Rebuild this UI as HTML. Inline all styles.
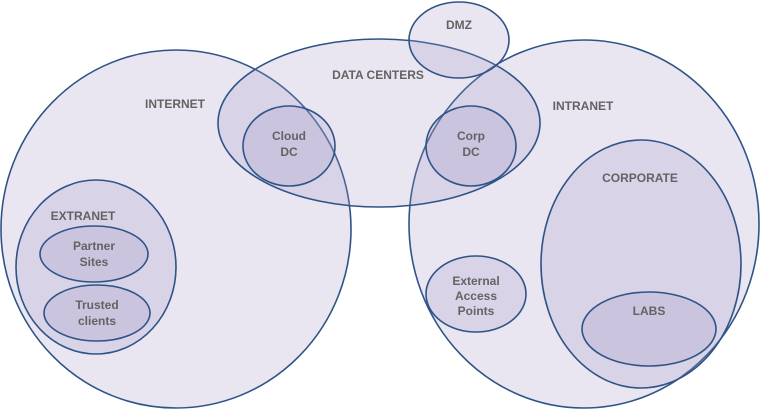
<!DOCTYPE html>
<html><head><style>
body{margin:0;background:#fff;width:760px;height:409px;overflow:hidden}
svg{display:block}
text{font-family:"Liberation Sans",sans-serif;font-weight:bold;font-size:12px;fill:#636363;text-anchor:middle}
ellipse{fill:#a595c4;fill-opacity:0.24;stroke:#2e5487;stroke-width:1.6}
</style></head><body>
<svg width="760" height="409" viewBox="0 0 760 409">
<ellipse cx="176" cy="229" rx="175" ry="179"/>
<ellipse cx="584" cy="224" rx="175" ry="184"/>
<ellipse cx="379" cy="123" rx="161" ry="84"/>
<ellipse cx="459" cy="40" rx="50" ry="38"/>
<ellipse cx="289" cy="146" rx="46" ry="40"/>
<ellipse cx="471" cy="146" rx="45" ry="40"/>
<ellipse cx="96" cy="267" rx="80" ry="87"/>
<ellipse cx="94" cy="254" rx="54" ry="28"/>
<ellipse cx="97" cy="313" rx="53" ry="28"/>
<ellipse cx="641" cy="264" rx="100" ry="124"/>
<ellipse cx="649" cy="329" rx="67" ry="37"/>
<ellipse cx="476" cy="294" rx="50" ry="38"/>
<text x="459" y="29">DMZ</text>
<text x="378" y="79">DATA CENTERS</text>
<text x="175" y="108">INTERNET</text>
<text x="583" y="110">INTRANET</text>
<text x="289" y="140">Cloud</text><text x="289" y="156">DC</text>
<text x="471" y="140">Corp</text><text x="471" y="156">DC</text>
<text x="640" y="182">CORPORATE</text>
<text x="83" y="220">EXTRANET</text>
<text x="94" y="250">Partner</text><text x="94" y="266">Sites</text>
<text x="97" y="309">Trusted</text><text x="97" y="325">clients</text>
<text x="476" y="285">External</text><text x="476" y="300">Access</text><text x="476" y="315">Points</text>
<text x="649" y="315">LABS</text>
</svg>
</body></html>
